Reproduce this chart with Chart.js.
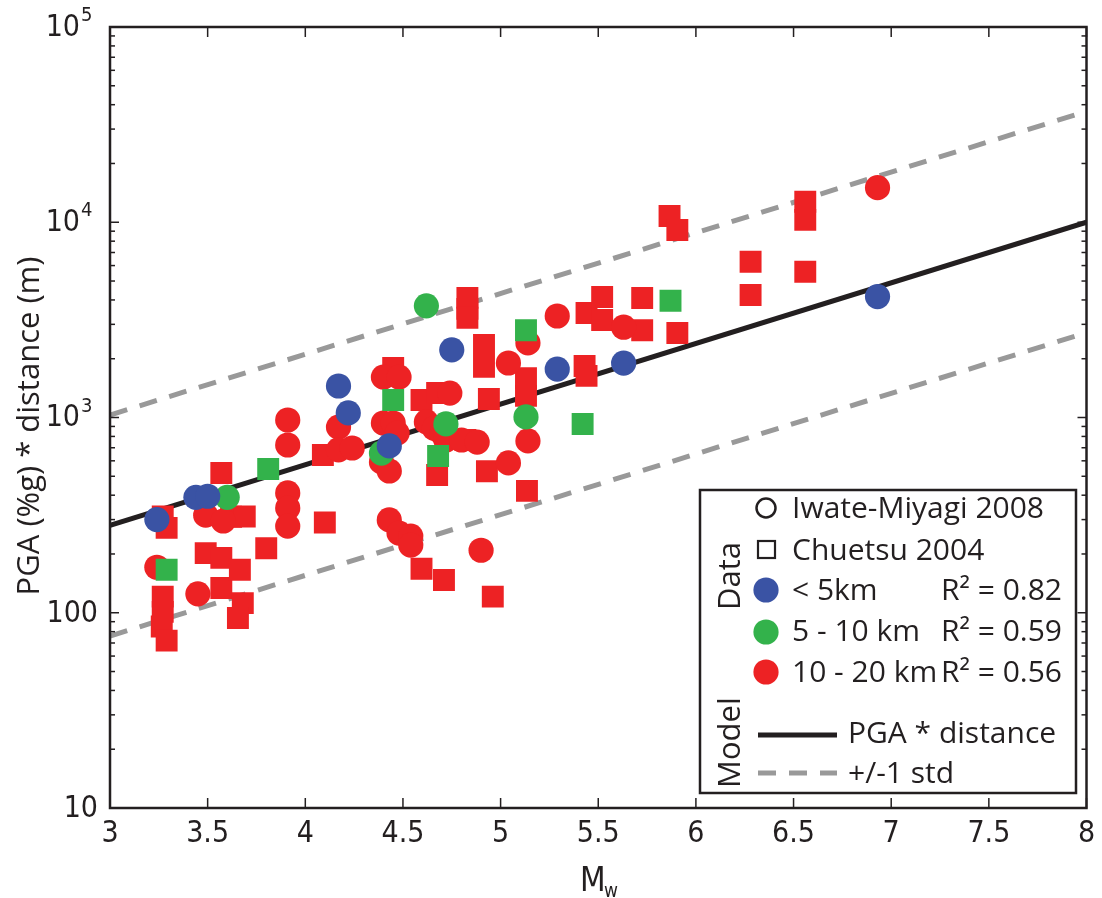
<!DOCTYPE html>
<html lang="en">
<head>
<meta charset="UTF-8">
<title>PGA * distance vs Mw</title>
<script src="https://cdn.jsdelivr.net/npm/chart.js"></script>
<style>
  body { margin: 0; background: #fff; }
  #wrap { width: 1102px; height: 898px; position: relative; }
</style>
</head>
<body>
<div id="wrap"><canvas id="grafico"></canvas></div>
<script>
// Iwate-Miyagi 2008 (circles), by distance class
var blueCircleMw  = [3.24, 3.44, 3.50, 4.17, 4.22, 4.43, 4.75, 5.29, 5.63, 6.93];
var blueCirclePga = [300, 390, 395, 1450, 1055, 715, 2220, 1770, 1900, 4160];

var greenCircleMw  = [3.60, 4.39, 4.62, 4.72, 5.13];
var greenCirclePga = [390, 657, 3730, 927, 1007];

var redCircleMw  = [3.24, 3.45, 3.49, 3.58, 3.91, 3.91, 3.91, 3.91, 3.91, 4.17, 4.17, 4.24,
                    4.40, 4.48, 4.40, 4.45, 4.47, 4.39, 4.43, 4.43, 4.48, 4.54, 4.54, 4.62,
                    4.66, 4.74, 4.70, 4.72, 4.80, 4.88, 4.90, 5.04, 5.04, 5.14, 5.14, 5.29, 5.63, 6.93];
var redCirclePga = [171, 125, 316, 295, 971, 723, 411, 344, 278, 893, 683, 698,
                    1611, 1611, 937, 937, 832, 592, 532, 299, 256, 247, 222, 949,
                    880, 1334, 832, 767, 767, 748, 209, 1902, 585, 2410, 759, 3310, 2900, 15030];

// Chuetsu 2004 (squares)
var greenSquareMw  = [3.29, 3.81, 4.45, 4.68, 5.13, 5.42, 5.87];
var greenSquarePga = [166, 545, 1230, 635, 2800, 926, 3960];

var redSquareMw  = [3.27, 3.29, 3.27, 3.27, 3.265, 3.29, 3.49, 3.57, 3.57, 3.57, 3.62, 3.69,
                    3.665, 3.68, 3.655, 3.80, 4.09, 4.10, 4.45, 4.595, 4.675, 4.675, 4.83, 4.83,
                    4.83, 4.71, 4.595, 4.915, 4.915, 4.94, 4.93, 4.96, 4.82, 5.13, 5.13, 5.135,
                    5.44, 5.43, 5.44, 5.52, 5.52, 5.725, 5.725, 5.865, 5.905, 5.905, 6.28, 6.28,
                    6.56, 6.56, 6.56];
var redSquarePga = [311, 272, 121, 101, 85, 72, 202, 191, 520, 134, 310, 311,
                    166, 112, 94, 214, 643, 290, 1795, 1230, 1334, 508, 4100, 3600,
                    3240, 147, 168, 2351, 1816, 1245, 530, 121, 767, 1590, 1290, 421,
                    3430, 1837, 1633, 4140, 3160, 4090, 2800, 10770, 9120, 2710, 6280, 4240,
                    12740, 10280, 5580];

// model: PGA * distance and +/-1 std
var fitMw    = [3, 8];
var fitPga   = [280, 10000];
var upperPga = [1030, 37000];
var lowerPga = [76, 2720];

// y tick labels: [base, exponent]
var yTickValues = [10, 100, 1000, 10000, 100000];
var yTickLabels = [['10', ''], ['100', ''], ['10', '3'], ['10', '4'], ['10', '5']];

var rojo = '#ed2224', verde = '#33b24b', azul = '#3a53a4', gris = '#999999', negro = '#231f20';
var fuente = "'Open Sans', 'Noto Sans', sans-serif";
var fuenteNum = "'DejaVu Sans Condensed', 'Open Sans', sans-serif";

function puntos(mw, pga) {
    return mw.map(function (m, i) { return { x: m, y: pga[i] }; });
}

function linea(label, pga, color, dash, order) {
    return {
        label: label, data: puntos(fitMw, pga), showLine: true,
        borderColor: color, borderWidth: 5, borderDash: dash,
        pointRadius: 0, pointHoverRadius: 0, order: order
    };
}

function marcas(label, mw, pga, color, estilo, order) {
    return {
        label: label, data: puntos(mw, pga),
        pointStyle: estilo, pointRadius: estilo === 'rect' ? 15.5 : 12.6,
        pointHoverRadius: estilo === 'rect' ? 15.5 : 12.6,
        pointBackgroundColor: color, pointBorderWidth: 0, order: order
    };
}

var marco = {
    id: 'marco',
    afterDatasetsDraw: function (chart) {
        var c = chart.ctx, a = chart.chartArea, xs = chart.scales.x, ys = chart.scales.y;
        function seg(x1, y1, x2, y2) { c.beginPath(); c.moveTo(x1, y1); c.lineTo(x2, y2); c.stroke(); }
        c.save();
        c.strokeStyle = negro;
        c.fillStyle = negro;

        // x ticks (bottom and top, inward)
        c.lineWidth = 1.5;
        xs.ticks.forEach(function (t) {
            var px = xs.getPixelForValue(t.value);
            seg(px, a.bottom, px, a.bottom - 10);
            seg(px, a.top, px, a.top + 10);
        });
        // y ticks, major and minor
        for (var d = 10; d < 100000; d *= 10) {
            for (var k = 1; k < 10; k++) {
                var py = ys.getPixelForValue(d * k);
                var len = k === 1 ? 9 : 5;
                seg(a.left, py, a.left + len, py);
                seg(a.right, py, a.right - len, py);
            }
        }

        // frame
        c.lineWidth = 2.5;
        c.strokeRect(a.left, a.top, a.right - a.left, a.bottom - a.top);

        // y tick labels
        c.textBaseline = 'middle';
        yTickValues.forEach(function (v, i) {
            var py = ys.getPixelForValue(v);
            var lab = yTickLabels[i];
            if (lab[1]) {
                c.font = '30px ' + fuenteNum;
                c.textAlign = 'right';
                c.fillText(lab[0], 80, py + 1);
                c.font = '20px ' + fuenteNum;
                c.textAlign = 'left';
                c.fillText(lab[1], 81, py - 11);
            } else {
                c.font = '30px ' + fuenteNum;
                c.textAlign = 'right';
                c.fillText(lab[0], 98, py + 1);
            }
        });

        // axis titles
        c.save();
        c.translate(30, 426);
        c.rotate(-Math.PI / 2);
        c.textAlign = 'center';
        c.font = '31px ' + fuente;
        c.fillText('PGA (%g) * distance (m)', 0, 0);
        c.restore();

        c.textBaseline = 'alphabetic';
        c.textAlign = 'left';
        c.font = '33px ' + fuenteNum;
        c.fillText('M', 580, 891);
        c.font = '19px ' + fuenteNum;
        c.fillText('w', 604, 897);

        // legend box
        c.fillStyle = '#fff';
        c.fillRect(700, 490, 376, 303);
        c.lineWidth = 2.5;
        c.strokeRect(700, 490, 376, 303);
        c.fillStyle = negro;

        c.font = '31px ' + fuente;
        c.save();
        c.translate(740, 610);
        c.rotate(-Math.PI / 2);
        c.fillText('Data', 0, 0);
        c.restore();
        c.save();
        c.translate(740, 788);
        c.rotate(-Math.PI / 2);
        c.fillText('Model', 0, 0);
        c.restore();

        // marker symbols
        c.lineWidth = 2.5;
        c.beginPath(); c.arc(766, 508, 9.5, 0, Math.PI * 2); c.stroke();
        c.lineWidth = 2.2;
        c.strokeRect(758, 541, 17, 17);
        [[azul, 590], [verde, 632], [rojo, 672]].forEach(function (p) {
            c.fillStyle = p[0];
            c.beginPath(); c.arc(766, p[1], 12.6, 0, Math.PI * 2); c.fill();
        });
        c.fillStyle = negro;

        c.font = '30px ' + fuente;
        c.fillText('Iwate-Miyagi 2008', 792, 518);
        c.fillText('Chuetsu 2004', 792, 560);
        c.fillText('< 5km', 792, 600);
        c.fillText('5 - 10 km', 792, 641);
        c.fillText('10 - 20 km', 792, 682);
        c.fillText('R\u00b2 = 0.82', 941, 600);
        c.fillText('R\u00b2 = 0.59', 941, 641);
        c.fillText('R\u00b2 = 0.56', 941, 682);

        c.lineWidth = 5;
        c.strokeStyle = negro;
        seg(758, 735, 837, 735);
        c.strokeStyle = gris;
        c.setLineDash([18, 13]);
        seg(758, 773, 837, 773);
        c.setLineDash([]);
        c.fillText('PGA * distance', 848, 743);
        c.fillText('+/-1 std', 848, 783);
        c.restore();
    }
};

var ctx = document.getElementById('grafico').getContext('2d');
new Chart(ctx, {
    type: 'scatter',
    data: {
        datasets: [
            marcas('< 5 km (Iwate-Miyagi)', blueCircleMw, blueCirclePga, azul, 'circle', 1),
            marcas('5 - 10 km (Iwate-Miyagi)', greenCircleMw, greenCirclePga, verde, 'circle', 2),
            marcas('5 - 10 km (Chuetsu)', greenSquareMw, greenSquarePga, verde, 'rect', 3),
            marcas('10 - 20 km (Iwate-Miyagi)', redCircleMw, redCirclePga, rojo, 'circle', 4),
            marcas('10 - 20 km (Chuetsu)', redSquareMw, redSquarePga, rojo, 'rect', 5),
            linea('PGA * distance', fitPga, negro, [], 6),
            linea('+1 std', upperPga, gris, [18, 13], 7),
            linea('-1 std', lowerPga, gris, [18, 13], 8)
        ]
    },
    options: {
        responsive: true,
        maintainAspectRatio: false,
        animation: false,
        layout: { padding: { top: 27, right: 14, left: 0, bottom: 0 } },
        plugins: { legend: { display: false }, tooltip: { enabled: false } },
        scales: {
            x: {
                type: 'linear', min: 3, max: 8,
                ticks: { stepSize: 0.5, autoSkip: false, maxRotation: 0, padding: 8,
                         color: negro, font: { family: fuenteNum, size: 30 },
                         callback: function (v) { return String(v); } },
                grid: { display: false, drawTicks: false },
                border: { display: false },
                afterFit: function (s) { s.height = 90; s.paddingLeft = 0; s.paddingRight = 0; }
            },
            y: {
                type: 'logarithmic', min: 10, max: 100000,
                ticks: { display: false },
                grid: { display: false, drawTicks: false },
                border: { display: false },
                afterFit: function (s) { s.width = 110; }
            }
        }
    },
    plugins: [marco]
});
</script>
</body>
</html>
